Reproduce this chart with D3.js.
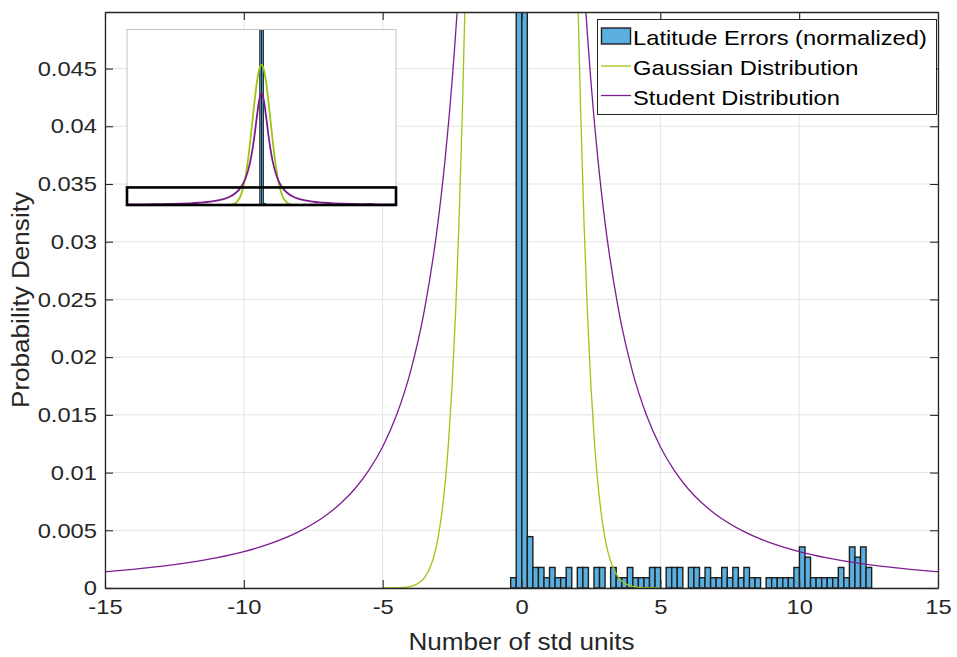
<!DOCTYPE html>
<html>
<head>
<meta charset="utf-8">
<script src="https://cdn.jsdelivr.net/npm/d3@7"></script>
<style>
  body { margin: 0; background: #fff; }
  text { font-family: "Liberation Sans", Arial, Helvetica, sans-serif; }
</style>
</head>
<body>
<div id="chart"></div>
<script>
// histogram of normalized latitude errors (bins of 0.2 std units)
var binStart = -0.39, binWidth = 0.2;
var binHeights = [
  0.00089, 2.70, 2.20, 0.00445, 0.00178, 0.00178, 0.00089, 0.00178, 0.00089, 0.00089,
  0.00178, 0, 0.00178, 0.00178, 0, 0.00178, 0.00178, 0, 0.00178, 0.00089,
  0.00089, 0.00178, 0.00089, 0.00089, 0.00089, 0.00178, 0.00178, 0, 0.00178, 0.00178,
  0.00178, 0, 0.00178, 0.00178, 0.00089, 0.00178, 0.00089, 0.00089, 0.00178, 0.00089,
  0.00178, 0.00089, 0.00178, 0.00089, 0.00089, 0, 0.00089, 0.00089, 0.00089, 0.00089,
  0.00089, 0.00178, 0.00356, 0.00267, 0.00089, 0.00089, 0.00089, 0.00089, 0.00089, 0.00178,
  0.00089, 0.00356, 0.00267, 0.00356, 0.00178
];

// right half of the two fitted curves (they are symmetric about 0)
var gaussX = [0, 0.25, 0.5, 0.75, 1, 1.25, 1.5, 1.75, 2, 2.125, 2.25, 2.375, 2.5, 2.625, 2.75, 2.875, 3, 3.125, 3.25, 3.5, 3.75, 4, 4.25, 4.5, 5];
var gaussY = [0.39894, 0.38667, 0.35207, 0.30114, 0.24197, 0.18265, 0.12952, 0.08628, 0.05399, 0.04172, 0.03174, 0.02377, 0.01753, 0.01272, 0.00909, 0.006396, 0.004432, 0.003023, 0.002029, 0.000873, 0.000353, 0.000134, 0.0000477, 0.000016, 0.0000015];

var studentX = [0, 0.25, 0.5, 0.75, 1, 1.25, 1.5, 1.75, 2, 2.25, 2.5, 2.75, 3, 3.5, 4, 4.5, 5, 5.5, 6, 6.5, 7, 8, 9, 10, 11, 12, 13, 14, 15];
var studentY = [0.31831, 0.29959, 0.25465, 0.20372, 0.15915, 0.12422, 0.09794, 0.07835, 0.06366, 0.05250, 0.04390, 0.03718, 0.03183, 0.02402, 0.01872, 0.01498, 0.01224, 0.01019, 0.00860, 0.00736, 0.00637, 0.00490, 0.00388, 0.00315, 0.00261, 0.00220, 0.00187, 0.00162, 0.00141];

var xTicks = [-15, -10, -5, 0, 5, 10, 15];
var xTickLabels = ["-15", "-10", "-5", "0", "5", "10", "15"];
var yTicks = [0, 0.005, 0.01, 0.015, 0.02, 0.025, 0.03, 0.035, 0.04, 0.045];
var yTickLabels = ["0", "0.005", "0.01", "0.015", "0.02", "0.025", "0.03", "0.035", "0.04", "0.045"];
var legendLabels = ["Latitude Errors (normalized)", "Gaussian Distribution", "Student Distribution"];

var width = 957, height = 657;
// plot box (note: "top" is reserved on window, so prefixed names)
var plotL = 105, plotR = 938, plotT = 12, plotB = 588;
var SX = 1.13; // reference font is a bit wider than Liberation Sans
var barFill = "#5BAFE0", green = "#9CC60F", purple = "#7D1C91", axisColor = "#262626";

function mirror(xs, ys) {
  var pts = [];
  for (var i = xs.length - 1; i > 0; i--) pts.push([-xs[i], ys[i]]);
  for (var j = 0; j < xs.length; j++) pts.push([xs[j], ys[j]]);
  return pts;
}
var gaussPts = mirror(gaussX, gaussY);
var studentPts = mirror(studentX, studentY);
var bins = binHeights.map(function(h, i) {
  return { x0: binStart + i * binWidth, x1: binStart + (i + 1) * binWidth, h: h };
});

// stretch text glyphs horizontally about their anchor
function stretch(sel) {
  sel.each(function() {
    var t = d3.select(this);
    var x = +t.attr("x") || 0, y = +t.attr("y") || 0;
    t.attr("transform", "translate(" + x + "," + y + ") scale(" + SX + ",1)").attr("x", 0).attr("y", 0);
  });
}

var svg = d3.select("#chart").append("svg")
  .attr("width", width)
  .attr("height", height);

var x = d3.scaleLinear().domain([-15, 15]).range([plotL, plotR]);
var y = d3.scaleLinear().domain([0, 0.0499]).range([plotB, plotT]);

var defs = svg.append("defs");
defs.append("clipPath").attr("id", "mainClip")
  .append("rect").attr("x", plotL).attr("y", plotT).attr("width", plotR - plotL).attr("height", plotB - plotT);

// grid
var grid = svg.append("g").attr("stroke", "#e3e3e3").attr("stroke-width", 1);
grid.selectAll(".gx").data(xTicks).enter().append("line")
  .attr("x1", d => x(d)).attr("x2", d => x(d)).attr("y1", plotT).attr("y2", plotB);
grid.selectAll(".gy").data(yTicks).enter().append("line")
  .attr("x1", plotL).attr("x2", plotR).attr("y1", d => y(d)).attr("y2", d => y(d));

// bars + both curves, used for the main axes and the inset
function drawData(g, xs, ys, lw, barLw) {
  g.selectAll("rect.bar").data(bins.filter(b => b.h > 0)).enter().append("rect")
    .attr("class", "bar")
    .attr("x", d => xs(d.x0))
    .attr("width", d => xs(d.x1) - xs(d.x0))
    .attr("y", d => ys(d.h))
    .attr("height", d => ys(0) - ys(d.h))
    .attr("fill", barFill)
    .attr("stroke", "#1e1e1e")
    .attr("stroke-width", barLw);
  var line = d3.line().x(d => xs(d[0])).y(d => ys(d[1])).curve(d3.curveMonotoneX);
  g.append("path").datum(gaussPts).attr("d", line)
    .attr("fill", "none").attr("stroke", green).attr("stroke-width", lw);
  g.append("path").datum(studentPts).attr("d", line)
    .attr("fill", "none").attr("stroke", purple).attr("stroke-width", lw);
}
var main = svg.append("g").attr("clip-path", "url(#mainClip)");
drawData(main, x, y, 1.3, 1.4);

// axes (ticks inward on all four sides)
var axL = svg.append("g").attr("transform", "translate(" + plotL + ",0)")
  .call(d3.axisLeft(y).tickValues(yTicks).tickFormat((d, i) => yTickLabels[i]).tickSizeInner(-8).tickSizeOuter(0).tickPadding(8));
var axB = svg.append("g").attr("transform", "translate(0," + plotB + ")")
  .call(d3.axisBottom(x).tickValues(xTicks).tickFormat((d, i) => xTickLabels[i]).tickSizeInner(-8).tickSizeOuter(0).tickPadding(11));
var axT = svg.append("g").attr("transform", "translate(0," + plotT + ")")
  .call(d3.axisTop(x).tickValues(xTicks).tickFormat("").tickSizeInner(-8).tickSizeOuter(0));
var axR = svg.append("g").attr("transform", "translate(" + plotR + ",0)")
  .call(d3.axisRight(y).tickValues(yTicks).tickFormat("").tickSizeInner(-8).tickSizeOuter(0));
[axL, axB, axT, axR].forEach(function(a) {
  a.selectAll("path").attr("stroke", axisColor).attr("stroke-width", 1.3);
  a.selectAll("line").attr("stroke", axisColor).attr("stroke-width", 1.1);
  a.selectAll("text").attr("fill", axisColor).style("font-size", "21px")
    .style("font-family", "'Liberation Sans', Arial, sans-serif");
});
axL.selectAll("text").call(stretch);
axB.selectAll("text").call(stretch);

// axis labels
svg.append("text")
  .attr("transform", "translate(" + ((plotL + plotR) / 2) + ",650) scale(" + SX + ",1)")
  .attr("text-anchor", "middle").attr("fill", axisColor).style("font-size", "23.1px")
  .text("Number of std units");
svg.append("text")
  .attr("transform", "translate(29," + ((plotT + plotB) / 2) + ") rotate(-90) scale(" + SX + ",1)")
  .attr("text-anchor", "middle").attr("fill", axisColor).style("font-size", "23.1px")
  .text("Probability Density");

// inset: zoomed-out view with the main window outlined
var iL = 127, iR = 396, iT = 29.5, iB = 205;
var xi = d3.scaleLinear().domain([-15, 15]).range([iL, iR]);
var yi = d3.scaleLinear().domain([0, 0.5]).range([iB, iT]);
defs.append("clipPath").attr("id", "insetClip")
  .append("rect").attr("x", iL).attr("y", iT).attr("width", iR - iL).attr("height", iB - iT);
svg.append("rect").attr("x", iL).attr("y", iT).attr("width", iR - iL).attr("height", iB - iT)
  .attr("fill", "#fff");
var inset = svg.append("g").attr("clip-path", "url(#insetClip)");
drawData(inset, xi, yi, 1.8, 1);
svg.append("rect").attr("x", iL).attr("y", iT).attr("width", iR - iL).attr("height", iB - iT)
  .attr("fill", "none").attr("stroke", "#c4c4c4").attr("stroke-width", 1);
svg.append("rect")
  .attr("x", xi(-15)).attr("y", yi(0.05))
  .attr("width", xi(15) - xi(-15)).attr("height", yi(0) - yi(0.05))
  .attr("fill", "none").attr("stroke", "#000").attr("stroke-width", 2.6);

// legend
var lg = svg.append("g");
lg.append("rect").attr("x", 597.5).attr("y", 19.5).attr("width", 339).attr("height", 95)
  .attr("fill", "#fff").attr("stroke", axisColor).attr("stroke-width", 1);
var rows = [45, 75, 104.5];
lg.append("rect").attr("x", 601.5).attr("y", rows[0] - 17).attr("width", 29).attr("height", 16)
  .attr("fill", barFill).attr("stroke", "#1e1e1e").attr("stroke-width", 1.4);
lg.append("line").attr("x1", 601).attr("x2", 631).attr("y1", rows[1] - 9).attr("y2", rows[1] - 9)
  .attr("stroke", green).attr("stroke-width", 1.3);
lg.append("line").attr("x1", 601).attr("x2", 631).attr("y1", rows[2] - 9).attr("y2", rows[2] - 9)
  .attr("stroke", purple).attr("stroke-width", 1.3);
lg.selectAll("text.lab").data(legendLabels).enter().append("text")
  .attr("class", "lab")
  .attr("x", 633).attr("y", (d, i) => rows[i])
  .attr("fill", "#000").style("font-size", "21px")
  .text(d => d)
  .call(stretch);
</script>
</body>
</html>
